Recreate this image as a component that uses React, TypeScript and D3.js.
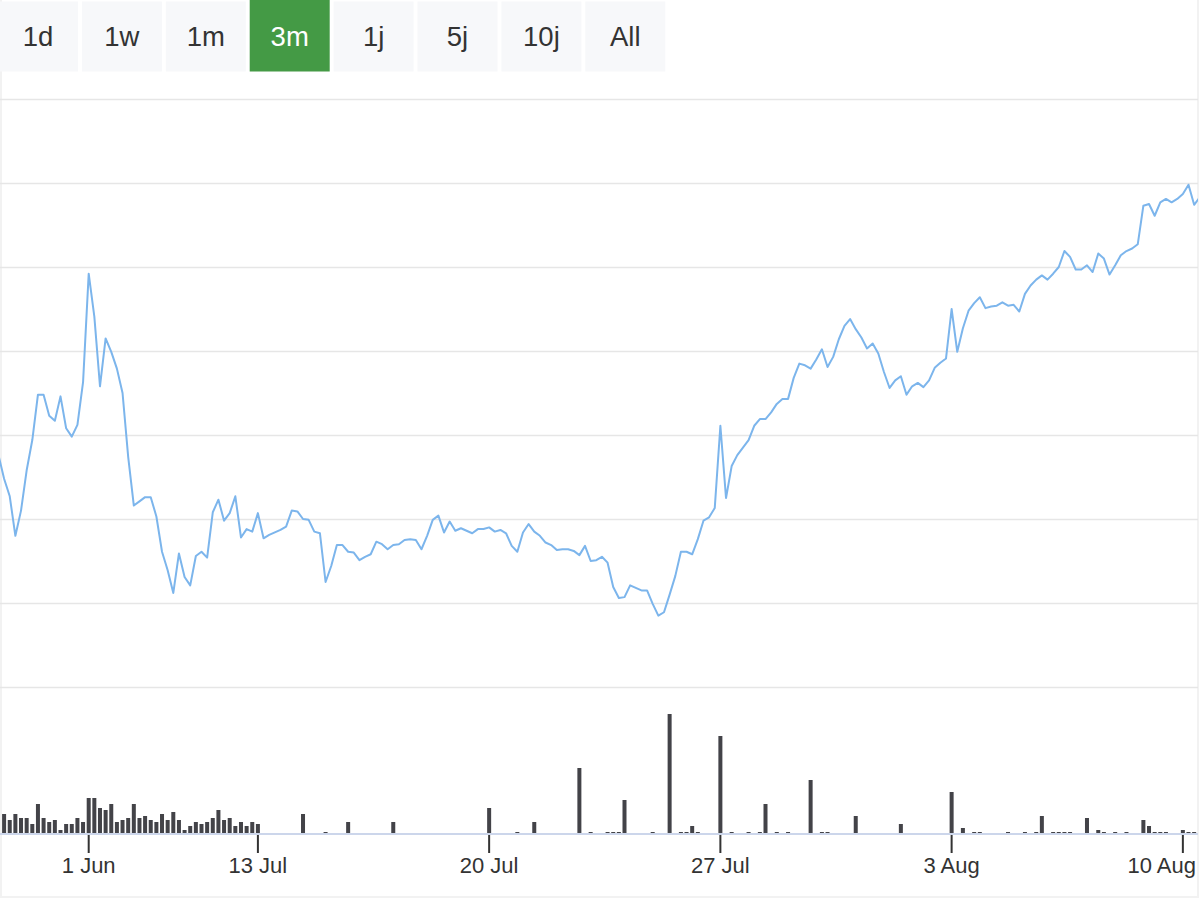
import React from "react";
import * as d3 from "d3";

// ---- DATA ----
const rangeButtons = ["1d", "1w", "1m", "3m", "1j", "5j", "10j", "All"];
const selectedRange = "3m";

const tickIndex = [16, 46, 87, 128, 169, 210];
const tickLabels = ["1 Jun", "13 Jul", "20 Jul", "27 Jul", "3 Aug", "10 Aug"];

const price = [
  12.76, 12.48, 12.27, 11.8, 12.1, 12.58, 12.94, 13.48, 13.48, 13.23,
  13.17, 13.46, 13.08, 12.98, 13.12, 13.63, 14.92, 14.41, 13.58, 14.15,
  13.99, 13.79, 13.5, 12.74, 12.16, 12.21, 12.26, 12.26, 12.03, 11.61,
  11.39, 11.12, 11.59, 11.31, 11.21, 11.56, 11.61, 11.54, 12.08, 12.23,
  11.98, 12.07, 12.27, 11.78, 11.88, 11.85, 12.07, 11.77, 11.81, 11.84,
  11.87, 11.91, 12.1, 12.09, 12.0, 11.99, 11.85, 11.83, 11.25, 11.44,
  11.69, 11.69, 11.61, 11.6, 11.51, 11.55, 11.58, 11.73, 11.7, 11.64,
  11.69, 11.7, 11.75, 11.76, 11.75, 11.64, 11.8, 11.99, 12.04, 11.84,
  11.97, 11.86, 11.89, 11.86, 11.83, 11.88, 11.88, 11.9, 11.85, 11.87,
  11.83, 11.68, 11.61, 11.84, 11.94, 11.85, 11.8, 11.72, 11.69, 11.63,
  11.64, 11.64, 11.62, 11.57, 11.68, 11.5, 11.51, 11.55, 11.48, 11.19,
  11.06, 11.07, 11.21, 11.18, 11.15, 11.15, 10.99, 10.85, 10.89, 11.1,
  11.32, 11.61, 11.61, 11.58, 11.76, 11.98, 12.02, 12.13, 13.11, 12.25,
  12.63, 12.76, 12.85, 12.94, 13.11, 13.19, 13.19, 13.27, 13.37, 13.43,
  13.43, 13.68, 13.85, 13.83, 13.79, 13.9, 14.02, 13.81, 13.93, 14.14,
  14.3, 14.38, 14.26, 14.16, 14.03, 14.09, 13.97, 13.75, 13.56, 13.65,
  13.7, 13.48, 13.58, 13.62, 13.57, 13.65, 13.8, 13.86, 13.91, 14.5,
  13.99, 14.27, 14.48, 14.57, 14.64, 14.51, 14.53, 14.54, 14.58, 14.54,
  14.55, 14.47, 14.68, 14.78, 14.85, 14.9, 14.85, 14.92, 15.0, 15.19,
  15.12, 14.97, 14.97, 15.02, 14.94, 15.16, 15.1, 14.91, 15.02, 15.14,
  15.19, 15.22, 15.27, 15.73, 15.75, 15.61, 15.77, 15.81, 15.77, 15.81,
  15.87, 15.98, 15.74, 15.83,
];

const volume = [
  0, 200, 140, 200, 160, 160, 100, 300, 160, 120,
  140, 40, 100, 100, 160, 120, 360, 360, 260, 240,
  300, 120, 140, 160, 300, 160, 180, 140, 120, 200,
  140, 220, 140, 40, 80, 120, 100, 120, 160, 240,
  140, 160, 80, 120, 80, 120, 100, 0, 0, 0,
  0, 0, 0, 0, 200, 0, 0, 0, 20, 0,
  0, 0, 120, 0, 0, 0, 0, 0, 0, 0,
  120, 0, 0, 0, 0, 0, 0, 0, 0, 0,
  0, 0, 0, 0, 0, 0, 0, 260, 0, 0,
  0, 0, 20, 0, 0, 120, 0, 0, 0, 0,
  0, 0, 0, 660, 0, 20, 0, 0, 20, 20,
  20, 340, 0, 0, 0, 0, 20, 0, 0, 1200,
  0, 20, 20, 80, 20, 0, 0, 0, 980, 0,
  20, 0, 0, 20, 0, 20, 300, 0, 20, 0,
  20, 0, 0, 0, 540, 0, 20, 20, 0, 0,
  0, 0, 180, 0, 0, 0, 0, 0, 0, 0,
  100, 0, 0, 0, 0, 0, 0, 0, 0, 420,
  0, 60, 0, 20, 20, 0, 0, 0, 0, 20,
  0, 0, 20, 0, 20, 180, 0, 20, 20, 20,
  20, 0, 0, 160, 0, 40, 20, 0, 20, 0,
  20, 0, 0, 140, 80, 20, 20, 20, 0, 0,
  40, 20, 20, 0,
];

// ---- LAYOUT ----
const W = 1200;
const H = 900;
const plotLeft = 0;
const plotRight = 1198;
const priceTop = 99;
const priceBottom = 687;
const volBottom = 834;
const volTop = 684;
const labelRightLimit = 1196;
const font = "'Liberation Sans', Arial, sans-serif";

export default function App() {
  const n = price.length;
  const x = d3.scaleLinear().domain([0, n - 1]).range([-1.54, -1.54 + 5.64 * (n - 1)]);
  const y = d3.scaleLinear().domain([10, 17]).range([priceBottom, priceTop]);
  const yv = d3.scaleLinear().domain([0, 1500]).range([volBottom, volTop]);

  const line = d3
    .line<number>()
    .x((_, i) => x(i))
    .y((d) => y(d));

  const gridVals = d3.range(10, 17.001, 1);

  return (
    <svg
      width={W}
      height={H}
      style={{ position: "absolute", left: 0, top: 0, background: "#fff" }}
      fontFamily={font}
    >
      <defs>
        <clipPath id="plotClip">
          <rect x={plotLeft} y={0} width={plotRight - plotLeft} height={H} />
        </clipPath>
      </defs>

      {/* frame */}
      <rect x={1} y={-10} width={1197} height={907} fill="none" stroke="#f2f2f2" strokeWidth={2} />

      {/* range selector buttons */}
      {rangeButtons.map((b, k) => {
        const left = -2 + 83.9 * k;
        const sel = b === selectedRange;
        return (
          <g key={b}>
            <rect
              x={left}
              y={sel ? 0 : 1.5}
              width={80}
              height={sel ? 71.5 : 70}
              fill={sel ? "#449a45" : "#f7f8fa"}
            />
            <text
              x={left + 40}
              y={46}
              textAnchor="middle"
              fontSize={27.5}
              fill={sel ? "#ffffff" : "#333333"}
            >
              {b}
            </text>
          </g>
        );
      })}

      {/* grid lines */}
      {gridVals.map((v) => (
        <line
          key={v}
          x1={plotLeft}
          x2={plotRight}
          y1={Math.round(y(v)) + 0.5}
          y2={Math.round(y(v)) + 0.5}
          stroke="#e6e6e6"
          strokeWidth={1.5}
        />
      ))}

      <g clipPath="url(#plotClip)">
        {/* volume bars */}
        {volume.map((v, i) =>
          v > 0 ? (
            <rect
              key={i}
              x={x(i) - 2}
              y={yv(v)}
              width={4}
              height={volBottom - yv(v)}
              fill="#434348"
            />
          ) : null
        )}
        {/* price line */}
        <path
          d={line(price) || ""}
          fill="none"
          stroke="#7cb5ec"
          strokeWidth={2}
          strokeLinejoin="round"
          strokeLinecap="round"
        />
      </g>

      {/* x axis */}
      <line x1={plotLeft} x2={plotRight} y1={volBottom} y2={volBottom} stroke="#ccd6eb" strokeWidth={2} />
      {tickIndex.map((ti, k) => {
        const tx = x(ti);
        const last = k === tickIndex.length - 1;
        return (
          <g key={ti}>
            <line x1={tx} x2={tx} y1={volBottom + 1} y2={853} stroke="#333333" strokeWidth={2} />
            <text
              x={last ? labelRightLimit : tx}
              y={873}
              textAnchor={last ? "end" : "middle"}
              fontSize={22}
              fill="#333333"
            >
              {tickLabels[k]}
            </text>
          </g>
        );
      })}
    </svg>
  );
}
